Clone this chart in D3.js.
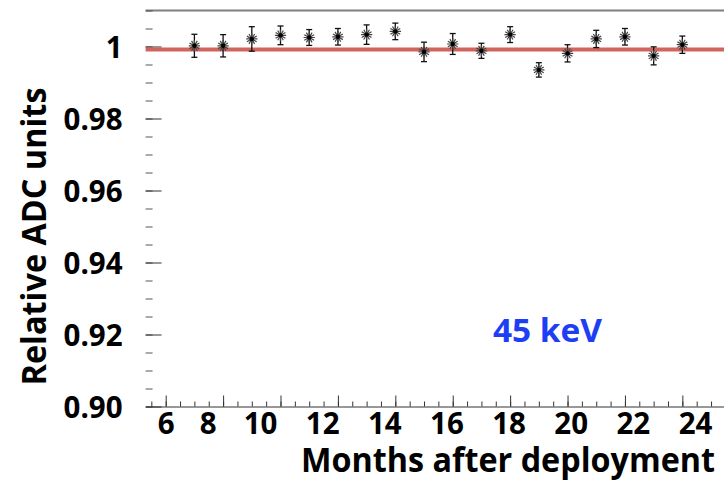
<!DOCTYPE html>
<html lang="en">
<head>
<meta charset="UTF-8">
<title>Relative ADC units vs months</title>
<script src="https://d3js.org/d3.v7.min.js"></script>
<style>
    body { margin: 0; background: white; }
    svg { display: block; font-family: "Open Sans", "DejaVu Sans", sans-serif; font-weight: bold; }
    .tick text { font-family: "Open Sans", sans-serif; font-weight: bold; }
</style>
</head>
<body>
<svg width="724" height="483"></svg>
<script>
    // data
    var months = [7, 8, 9, 10, 11, 12, 13, 14, 15, 16, 17, 18, 19, 20, 21, 22, 23, 24];
    var values = [1.0002, 1.0002, 1.0021, 1.0031, 1.0025, 1.0027, 1.0033, 1.0042, 0.9985,
                  1.0007, 0.9988, 1.0033, 0.9935, 0.9981, 1.0021, 1.0027, 0.9974, 1.0005];
    var errors = [0.0032, 0.0031, 0.0034, 0.0026, 0.0022, 0.0023, 0.0027, 0.0023, 0.0027,
                  0.0029, 0.0021, 0.0022, 0.0020, 0.0024, 0.0024, 0.0023, 0.0025, 0.0024];
    var refLevel = 0.9992;
    var xTickLabels = [6, 8, 10, 12, 14, 16, 18, 20, 22, 24];
    var yTickValues = [0.90, 0.92, 0.94, 0.96, 0.98, 1];
    var yTickLabels = ["0.90", "0.92", "0.94", "0.96", "0.98", "1"];

    var svg = d3.select("svg");

    var x = d3.scaleLinear().domain([5.3, 25.5]).range([145.6, 725.4]);
    var y = d3.scaleLinear().domain([0.90, 1.01]).range([406.5, 10.5]);
    // the month labels in the original sit a little off the ticks
    var xLabelPos = d3.scaleLinear().domain([6, 8, 10, 24]).range([165.7, 207.7, 260, 695]);

    // top frame line
    svg.append("line")
        .attr("x1", x(5.3)).attr("x2", x(25.5))
        .attr("y1", y(1.01)).attr("y2", y(1.01))
        .attr("stroke", "#7f7f7f").attr("stroke-width", 2);

    // y minor ticks
    svg.append("g")
        .attr("transform", "translate(" + x(5.3) + ",0)")
        .call(d3.axisLeft(y).ticks(22).tickSize(-7).tickFormat(""))
        .call(function(g) { g.select(".domain").remove(); })
        .selectAll("line").attr("stroke", "#555");

    // y major ticks + labels
    var yAxis = svg.append("g")
        .attr("transform", "translate(" + x(5.3) + ",0)")
        .call(d3.axisLeft(y).tickValues(yTickValues).tickSize(-16).tickPadding(23)
            .tickFormat(function(d, i) { return yTickLabels[i]; }));
    yAxis.select(".domain").remove();
    yAxis.selectAll("line").attr("stroke", "#333");
    yAxis.selectAll("text")
        .attr("font-size", 29.5)
        .attr("fill", "#000")
        .attr("dy", "0.36em");

    // x axis: minor and major ticks pointing up
    var xMinor = svg.append("g")
        .attr("transform", "translate(0," + y(0.90) + ")")
        .call(d3.axisBottom(x).ticks(40).tickSize(-5).tickSizeOuter(0).tickFormat(""));
    xMinor.select(".domain").attr("stroke", "#333");
    xMinor.selectAll("line").attr("stroke", "#333");

    var xMajor = svg.append("g")
        .attr("transform", "translate(0," + y(0.90) + ")")
        .call(d3.axisBottom(x).tickValues(xTickLabels).tickSize(-11).tickFormat(""));
    xMajor.select(".domain").remove();
    xMajor.selectAll("line").attr("stroke", "#333");

    // x tick labels
    var xLab = svg.append("g")
        .attr("transform", "translate(0," + y(0.90) + ")")
        .call(d3.axisBottom(xLabelPos).tickValues(xTickLabels).tickSize(0));
    xLab.select(".domain").remove();
    xLab.selectAll("text")
        .attr("font-size", 29.5)
        .attr("fill", "#000")
        .attr("y", 27)
        .attr("dy", 0);

    // reference line
    svg.append("line")
        .attr("x1", x(5.3)).attr("x2", x(25.5))
        .attr("y1", y(refLevel)).attr("y2", y(refLevel))
        .attr("stroke", "#d2645e").attr("stroke-width", 4);

    // error bars
    var pts = svg.append("g");
    months.forEach(function(m, i) {
        var cx = x(m), lo = y(values[i] - errors[i]), hi = y(values[i] + errors[i]);
        pts.append("line").attr("x1", cx).attr("x2", cx).attr("y1", lo).attr("y2", hi)
            .attr("stroke", "#111").attr("stroke-width", 1.3);
        [lo, hi].forEach(function(yy) {
            pts.append("line").attr("x1", cx - 3).attr("x2", cx + 3).attr("y1", yy).attr("y2", yy)
                .attr("stroke", "#111").attr("stroke-width", 1.3);
        });
    });

    // asterisk markers (two rotated asterisks + a dot)
    var star = d3.symbol().type(d3.symbolAsterisk).size(90);
    [0, 90].forEach(function(rot) {
        pts.selectAll(".mk" + rot).data(months).enter().append("path")
            .attr("class", "mk" + rot)
            .attr("transform", function(d, i) {
                return "translate(" + x(d) + "," + y(values[i]) + ") rotate(" + rot + ")";
            })
            .attr("fill", "none").attr("stroke", "#444").attr("stroke-width", 1.2)
            .attr("d", star());
    });
    pts.selectAll(".mk-dot").data(months).enter().append("circle")
        .attr("class", "mk-dot")
        .attr("cx", function(d) { return x(d); })
        .attr("cy", function(d, i) { return y(values[i]); })
        .attr("r", 2.2).attr("fill", "#000");

    // titles
    svg.append("text")
        .attr("x", 301).attr("y", 472)
        .attr("font-size", 33.5)
        .attr("textLength", 414).attr("lengthAdjust", "spacingAndGlyphs")
        .text("Months after deployment");

    svg.append("text")
        .attr("transform", "translate(46,236.5) rotate(-90)")
        .attr("text-anchor", "middle")
        .attr("font-size", 33.5)
        .attr("textLength", 298).attr("lengthAdjust", "spacingAndGlyphs")
        .text("Relative ADC units");

    svg.append("text")
        .attr("x", 493).attr("y", 342)
        .attr("font-size", 32)
        .attr("fill", "#1e3ef6")
        .attr("textLength", 109).attr("lengthAdjust", "spacingAndGlyphs")
        .text("45 keV");
</script>
</body>
</html>
